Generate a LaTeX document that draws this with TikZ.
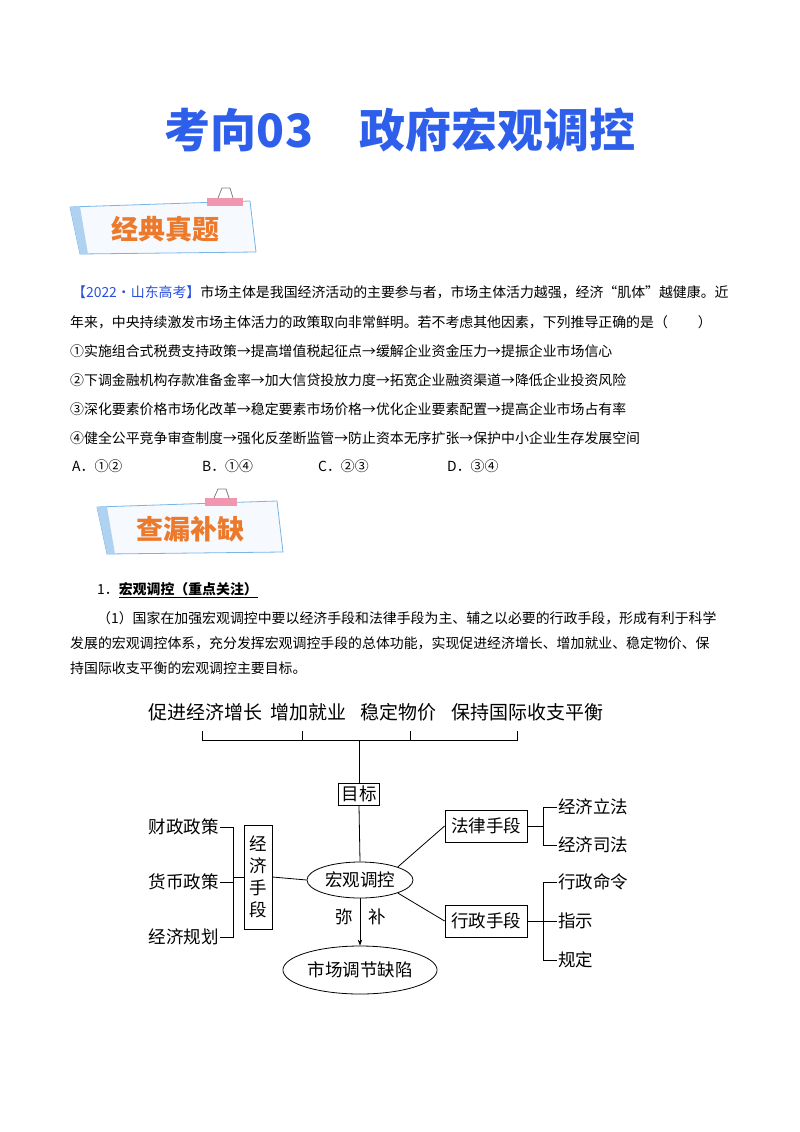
\documentclass[tikz,border=0pt]{standalone}
\usepackage{fontspec}
\setmainfont{Noto Sans CJK SC}
\usetikzlibrary{shapes.geometric,arrows.meta}
\definecolor{tblue}{RGB}{45,95,235}
\definecolor{borange}{RGB}{236,122,45}
\definecolor{bblue}{RGB}{120,180,230}
\definecolor{bfill}{RGB}{246,250,255}
\definecolor{tape}{RGB}{240,150,175}
\definecolor{qblue}{RGB}{40,80,220}
\tikzset{
  body/.style={anchor=west,inner sep=0pt,font=\fontsize{13.9}{14}\selectfont},
  dlab/.style={inner sep=1pt,font=\fontsize{17.5}{18}\selectfont},
  dbox/.style={draw,thick,inner sep=3pt,font=\fontsize{17.5}{18}\selectfont},
  dell/.style={draw,thick,ellipse,inner sep=2pt,font=\fontsize{17.5}{18}\selectfont},
  ln/.style={thick},
  bannertxt/.style={text=borange,font=\fontsize{27}{28}\selectfont\bfseries}
}
\begin{document}
\begin{tikzpicture}[x=1pt,y=-1pt]
\useasboundingbox (0,0) rectangle (800,1132);
% title
\node[text=tblue,font=\fontsize{46}{48}\selectfont\bfseries] (title) at (400,130) {考向03\hspace{46pt}政府宏观调控};
% banner 1
\filldraw[draw=bblue,fill=bfill,thick] (70,207) -- (250,201) -- (256,252) -- (80,254) -- cycle;
\fill[bblue!60] (70,207) -- (80,207) -- (88,254) -- (80,254) -- cycle;
\fill[tape] (207,198) rectangle (243,206);
\draw[gray,thick] (218,198) -- (222,188) -- (230,188) -- (233,198);
\node[bannertxt] (b1) at (165,229) {经典真题};
% banner 2
\filldraw[draw=bblue,fill=bfill,thick] (97,507) -- (277,501) -- (283,552) -- (107,554) -- cycle;
\fill[bblue!60] (97,507) -- (107,507) -- (115,554) -- (107,554) -- cycle;
\fill[tape] (205,498) rectangle (237,506);
\draw[gray,thick] (214,498) -- (218,489) -- (226,489) -- (229,498);
\node[bannertxt] (b2) at (190,529) {查漏补缺};
% question text
\node[body] (q1) at (72,292) {\textcolor{qblue}{【2022•山东高考】}市场主体是我国经济活动的主要参与者，市场主体活力越强，经济“肌体”越健康。近};
\node[body] (q2) at (70,322) {年来，中央持续激发市场主体活力的政策取向非常鲜明。若不考虑其他因素，下列推导正确的是（\hspace{30pt}）};
\node[body] (q3) at (70,351) {①实施组合式税费支持政策→提高增值税起征点→缓解企业资金压力→提振企业市场信心};
\node[body] (q4) at (70,380) {②下调金融机构存款准备金率→加大信贷投放力度→拓宽企业融资渠道→降低企业投资风险};
\node[body] (q5) at (70,409) {③深化要素价格市场化改革→稳定要素市场价格→优化企业要素配置→提高企业市场占有率};
\node[body] (q6) at (70,438) {④健全公平竞争审查制度→强化反垄断监管→防止资本无序扩张→保护中小企业生存发展空间};
\node[body] (qa) at (72,466) {A．①②};
\node[body] (qb) at (202,466) {B．①④};
\node[body] (qc) at (318,466) {C．②③};
\node[body] (qd) at (447,466) {D．③④};
% section text
\node[body] (s1) at (97,590) {1．\underline{\bfseries 宏观调控（重点关注）}};
\node[body] (s2) at (97,618) {（1）国家在加强宏观调控中要以经济手段和法律手段为主、辅之以必要的行政手段，形成有利于科学};
\node[body] (s3) at (70,643) {发展的宏观调控体系，充分发挥宏观调控手段的总体功能，实现促进经济增长、增加就业、稳定物价、保};
\node[body] (s4) at (70,668) {持国际收支平衡的宏观调控主要目标。};
% diagram
\node[dlab,font=\fontsize{19}{20}\selectfont] (g1) at (205,712) {促进经济增长};
\node[dlab,font=\fontsize{19}{20}\selectfont] (g2) at (308,712) {增加就业};
\node[dlab,font=\fontsize{19}{20}\selectfont] (g3) at (398,712) {稳定物价};
\node[dlab,font=\fontsize{19}{20}\selectfont] (g4) at (527,712) {保持国际收支平衡};
\coordinate (t1) at (202,731); \coordinate (t2) at (302,731);
\coordinate (t3) at (410,731); \coordinate (t4) at (517,731);
\coordinate (c1) at (202,740); \coordinate (c2) at (302,740);
\coordinate (c3) at (410,740); \coordinate (c4) at (517,740);
\coordinate (cm) at (359,740);
\draw[ln] (t1) -- (c1) -- (c4) -- (t4);
\draw[ln] (t2) -- (c2); \draw[ln] (t3) -- (c3);
\node[dbox] (goal) at (359,794) {目标};
\draw[ln] (cm) -- (goal.north);
\node[dell,minimum width=106pt,minimum height=36pt] (macro) at (360,880) {宏观调控};
\draw[ln] (goal.south) -- (macro.north);
\node[dell,minimum width=130pt,minimum height=48pt] (defect) at (360,970) {市场调节缺陷};
\draw[ln,-{Stealth[length=6pt]}] (macro.south) -- (defect.north);
\node[dlab] (mi) at (344,917) {弥};
\node[dlab] (bu) at (377,917) {补};
% economic
\node[draw,thick,minimum width=28pt,minimum height=104pt,inner sep=0pt,align=center,font=\fontsize{17.5}{22}\selectfont] (econ) at (258,877) {经\\济\\手\\段};
\draw[ln] (econ.east) -- (macro.west);
\node[dlab,anchor=east] (e1) at (220,827) {财政政策};
\node[dlab,anchor=east] (e2) at (220,882) {货币政策};
\node[dlab,anchor=east] (e3) at (220,937) {经济规划};
\coordinate (eb1) at (233,827); \coordinate (eb3) at (233,937); \coordinate (eb2) at (233,882);
\coordinate (ebm) at (233,877);
\draw[ln] (e1.east) -- (eb1) -- (eb3) -- (e3.east);
\draw[ln] (e2.east) -- (eb2);
\draw[ln] (ebm) -- (econ.west);
% law
\node[dbox,minimum width=82pt,minimum height=32pt] (law) at (486,826) {法律手段};
\node[dbox,minimum width=82pt,minimum height=32pt] (adm) at (486,921) {行政手段};
\draw[ln] (macro.north east) -- (law.west);
\draw[ln] (macro.south east) -- (adm.west);
\node[dlab,anchor=west] (l1) at (557,807) {经济立法};
\node[dlab,anchor=west] (l2) at (557,845) {经济司法};
\coordinate (lb1) at (543,807); \coordinate (lb2) at (543,845); \coordinate (lbm) at (543,826);
\draw[ln] (l1.west) -- (lb1) -- (lb2) -- (l2.west);
\draw[ln] (law.east) -- (lbm);
\node[dlab,anchor=west] (a1) at (557,882) {行政命令};
\node[dlab,anchor=west] (a2) at (557,921) {指示};
\node[dlab,anchor=west] (a3) at (557,960) {规定};
\coordinate (ab1) at (543,882); \coordinate (ab3) at (543,960);
\draw[ln] (a1.west) -- (ab1) -- (ab3) -- (a3.west);
\draw[ln] (adm.east) -- (a2.west);
\end{tikzpicture}
\end{document}
